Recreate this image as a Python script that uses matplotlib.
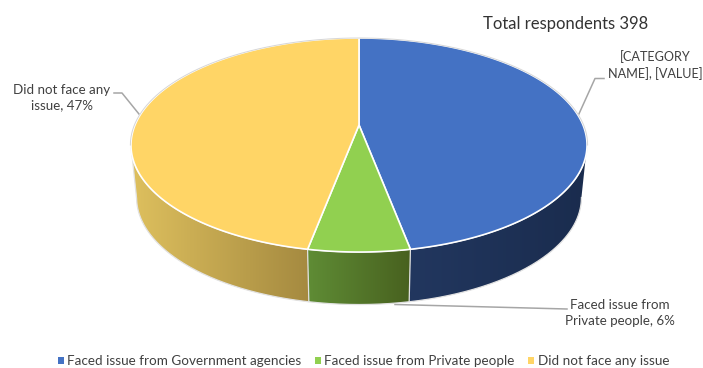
import numpy as np
import matplotlib
matplotlib.use("Agg")
import matplotlib.pyplot as plt
from matplotlib.patches import Polygon, Patch

categories = ["Faced issue from Government agencies",
              "Faced issue from Private people",
              "Did not face any issue"]
shares = [47, 6, 47]
top_colors = ["#4472C4", "#91D050", "#FFD566"]
wall_left = ["#22375F", "#5F8C35", "#DEC05E"]
wall_right = ["#1A2C4E", "#48611F", "#A58A40"]
title = "Total respondents 398"
labels = ["[CATEGORY\nNAME], [VALUE]",
          "Faced issue from\nPrivate people, 6%",
          "Did not face any\nissue, 47%"]

plt.rcParams["font.family"] = ["Lato", "DejaVu Sans"]
TEXT = "#404040"
LEADER = "#A6A6A6"

fig = plt.figure(figsize=(7.03, 3.68), dpi=100)
ax = fig.add_axes([0, 0, 1, 1])


def rim(theta, cx=359.0, k=224.0, drop=0.0):
    """Project disc-rim angles (clockwise from 12 o'clock) into pixel space."""
    u, v = np.sin(theta), np.cos(theta)
    w = 1 + 0.187 * v
    return cx + k * u / w, (-79.9 * v + 125) / w + drop


start = 0.0
edges = [0.0]
for s in shares:
    start += s / sum(shares) * 2 * np.pi
    edges.append(start)

# Side walls run between the two widest points of the projected rim
front_a, front_b = np.radians(100.8), np.radians(259.2)
for i in range(3):
    a, b = max(edges[i], front_a), min(edges[i + 1], front_b)
    t = np.linspace(a, b, 160)
    tx, ty = rim(t)
    bx, by = rim(t[::-1], k=218.5, drop=52.5)
    poly = np.column_stack([np.r_[tx, bx], np.r_[ty, by]])
    c0 = np.array(matplotlib.colors.to_rgb(wall_left[i]))
    c1 = np.array(matplotlib.colors.to_rgb(wall_right[i]))
    ramp = np.linspace(0, 1, 256)[None, :, None]
    img = c0[None, None, :] * (1 - ramp) + c1[None, None, :] * ramp
    x0, x1 = poly[:, 0].min(), poly[:, 0].max()
    im = ax.imshow(img, extent=(x0, x1, poly[:, 1].max(), poly[:, 1].min()),
                   aspect="auto", zorder=2)
    clip = Polygon(poly, closed=True, transform=ax.transData, fc="none", ec="none")
    ax.add_patch(clip)
    im.set_clip_path(clip)
    ax.plot(poly[:, 0], poly[:, 1], color="#E2E2E2", lw=0.9, zorder=3)

# Top face
for i in range(3):
    t = np.linspace(edges[i], edges[i + 1], 200)
    x, y = rim(t)
    ax.add_patch(Polygon(np.column_stack([np.r_[359, x], np.r_[125, y]]), closed=True,
                         fc=top_colors[i], ec="white", lw=1.2, joinstyle="round", zorder=4))

# Thin grey outline around the far half of the rim
t = np.linspace(np.radians(-100.8), np.radians(100.8), 300)
ax.plot(*rim(t, k=224.6), color="#D6D6D6", lw=0.7, zorder=5)

# Leader lines
ax.plot([604, 595, 578], [78.5, 78.5, 116], color=LEADER, lw=1.1, zorder=1)
ax.plot([567, 395], [309, 304.5], color=LEADER, lw=1.1, zorder=1)
ax.plot([114, 122, 143], [93, 93, 119], color=LEADER, lw=1.1, zorder=1)

# Text
ax.text(565.5, 23.5, title, ha="center", va="center", fontsize=12, color="#333333")
lab_kw = dict(ha="center", va="center", color=TEXT)
ax.text(655.5, 65, labels[0], fontsize=9.1, linespacing=1.4, **lab_kw)
ax.text(619.5, 313, labels[1], fontsize=9.6, linespacing=1.32, **lab_kw)
ax.text(62, 98, labels[2], fontsize=9.6, linespacing=1.32, **lab_kw)

handles = [Patch(fc=c, ec="none") for c in top_colors]
ax.legend(handles, categories, ncol=3, loc="center", bbox_to_anchor=(363.5 / 703, 1 - 361 / 368),
          frameon=False, fontsize=9.7, labelcolor=TEXT, handlelength=0.45, handleheight=0.45,
          handletextpad=0.25, columnspacing=1.0, borderpad=0, borderaxespad=0)

ax.set_xlim(0, 703)
ax.set_ylim(368, 0)
ax.axis("off")
fig.savefig("out.png", dpi=100, facecolor="white")
